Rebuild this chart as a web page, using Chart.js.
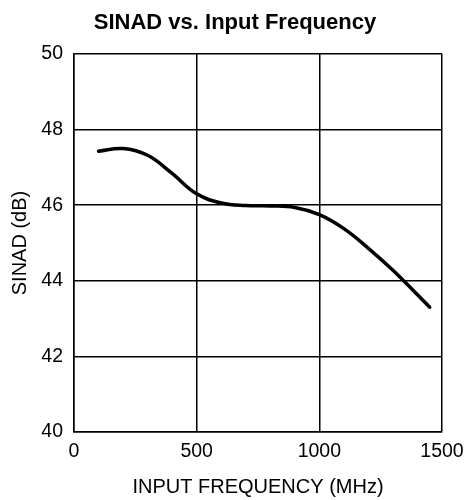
<!DOCTYPE html>
<html>
<head>
<meta charset="utf-8">
<script src="https://cdn.jsdelivr.net/npm/chart.js@4/dist/chart.umd.min.js"></script>
<style>
  html, body { margin: 0; padding: 0; background: #fff; }
  #wrap { width: 466px; height: 500px; }
</style>
</head>
<body>
<div id="wrap"><canvas id="c" width="466" height="500"></canvas></div>
<script>
// SINAD measured against input frequency
const freqMHz = [100, 200, 300, 400, 500, 600, 700, 800, 900, 1000, 1100, 1200, 1300, 1400, 1450];
const sinadDb = [47.43, 47.50, 47.32, 46.84, 46.30, 46.06, 45.99, 45.98, 45.94, 45.75, 45.38, 44.86, 44.28, 43.63, 43.30];

const xTickValues = [0, 500, 1000, 1500];
const yTickValues = [40, 42, 44, 46, 48, 50];

const FONT = "'Liberation Sans', Arial, Helvetica, sans-serif";
const INK = '#000';

const points = freqMHz.map((f, i) => ({ x: f, y: sinadDb[i] }));

new Chart(document.getElementById('c'), {
  type: 'line',
  data: {
    datasets: [{
      data: points,
      borderColor: INK,
      borderWidth: 3.5,
      pointRadius: 0,
      fill: false,
      tension: 0.4,
      borderCapStyle: 'round'
    }]
  },
  options: {
    responsive: false,
    animation: false,
    devicePixelRatio: 1,
    layout: { padding: { left: 4, right: 0, top: 0, bottom: 0 } },
    plugins: {
      legend: { display: false },
      tooltip: { enabled: false },
      title: {
        display: true,
        text: 'SINAD vs. Input Frequency',
        color: INK,
        font: { family: FONT, size: 22, weight: 'bold' },
        padding: { top: 10, bottom: 17.6 }
      }
    },
    scales: {
      x: {
        type: 'linear',
        min: 0,
        max: 1500,
        afterBuildTicks: (s) => { s.ticks = xTickValues.map(v => ({ value: v })); },
        afterFit: (s) => { s.height = 68; s.paddingRight = 24; },
        ticks: {
          color: INK,
          padding: 8,
          maxRotation: 0,
          font: { family: FONT, size: 19.5 },
          callback: (v) => String(v)
        },
        grid: { color: INK, lineWidth: 1.5, drawTicks: false },
        border: { display: true, color: INK, width: 1.5 },
        title: {
          display: true,
          text: 'INPUT FREQUENCY (MHz)',
          color: INK,
          font: { family: FONT, size: 20 },
          padding: { top: 0, bottom: 1 }
        }
      },
      y: {
        type: 'linear',
        min: 40,
        max: 50,
        afterBuildTicks: (s) => { s.ticks = yTickValues.map(v => ({ value: v })); },
        afterFit: (s) => { s.width = 70; },
        ticks: {
          color: INK,
          padding: 11,
          font: { family: FONT, size: 19.5 },
          callback: (v) => String(v)
        },
        grid: { color: INK, lineWidth: 1.5, drawTicks: false },
        border: { display: true, color: INK, width: 1.5 },
        title: {
          display: true,
          text: 'SINAD (dB)',
          color: INK,
          font: { family: FONT, size: 20 },
          padding: { top: 4, bottom: 0 }
        }
      }
    }
  }
});
</script>
</body>
</html>
